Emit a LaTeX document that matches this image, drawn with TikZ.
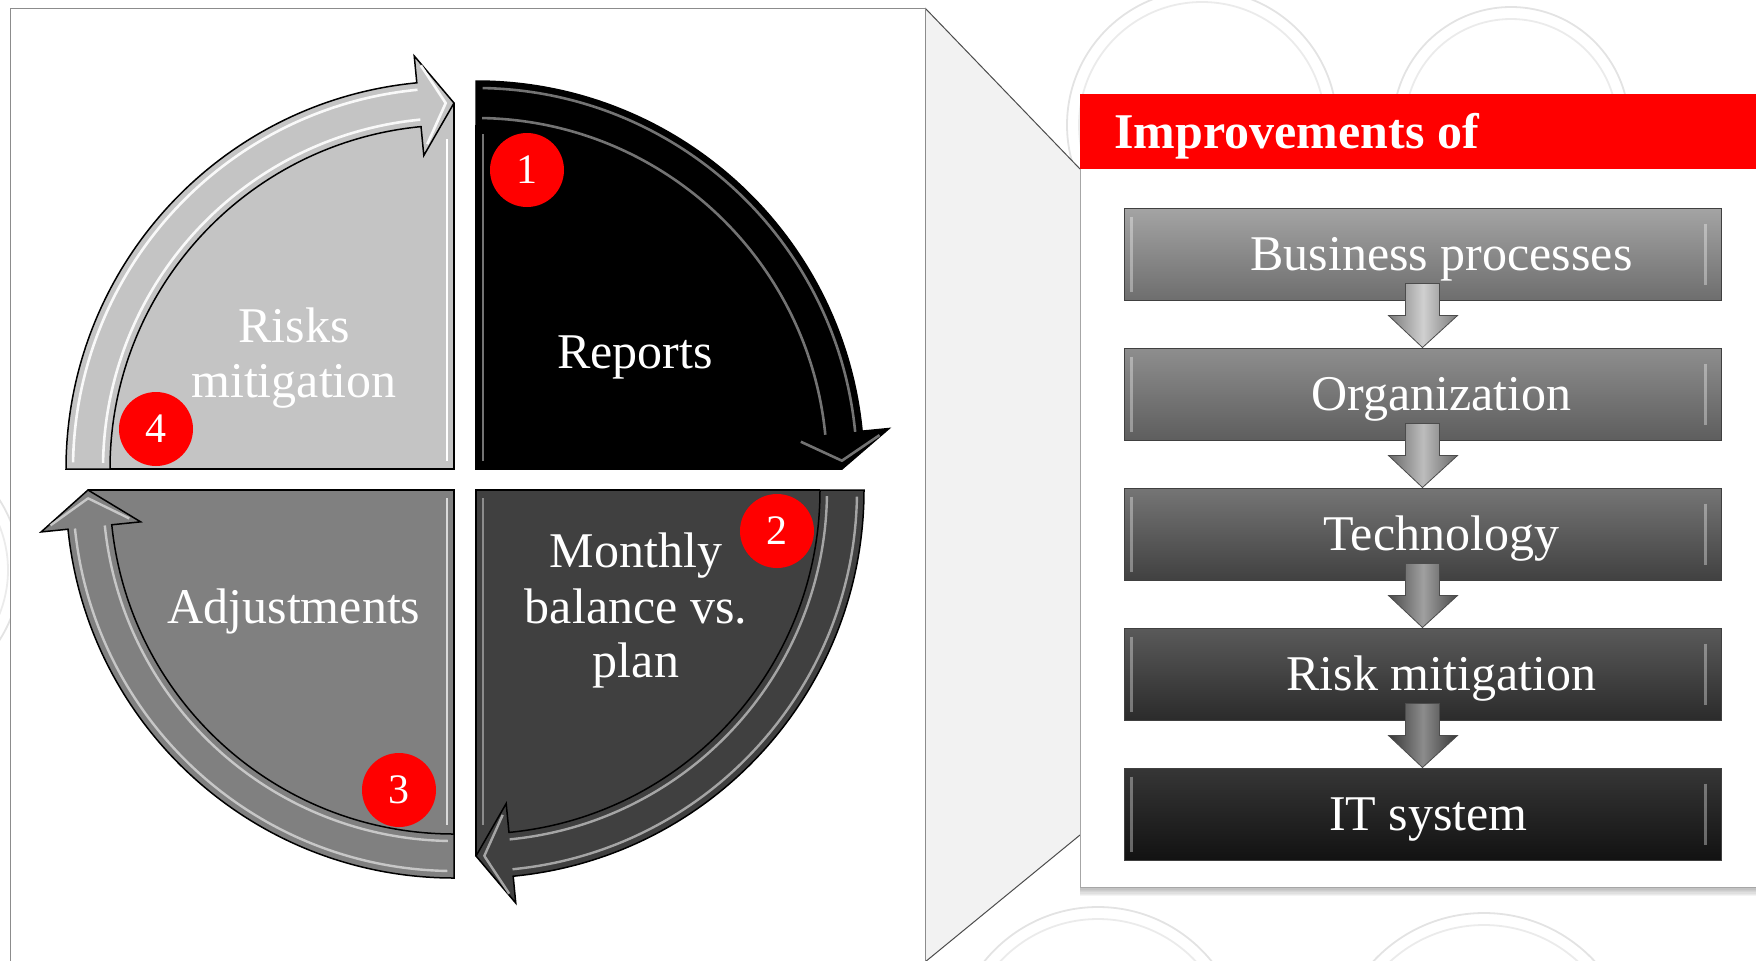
\documentclass[tikz,border=0pt]{standalone}
\usepackage{fontspec}
\setmainfont{Liberation Serif}
\usetikzlibrary{calc}
\definecolor{qtl}{HTML}{C4C4C4}
\definecolor{qtr}{HTML}{000000}
\definecolor{qbr}{HTML}{404040}
\definecolor{qbl}{HTML}{808080}
\definecolor{calloutgray}{HTML}{F2F2F2}
\definecolor{hdrred}{HTML}{FF0000}
\definecolor{bt1}{HTML}{A4A4A4}\definecolor{bb1}{HTML}{6E6E6E}
\definecolor{bt2}{HTML}{8E8E8E}\definecolor{bb2}{HTML}{5E5E5E}
\definecolor{bt3}{HTML}{757575}\definecolor{bb3}{HTML}{414141}
\definecolor{bt4}{HTML}{5A5A5A}\definecolor{bb4}{HTML}{2B2B2B}
\definecolor{bt5}{HTML}{363636}\definecolor{bb5}{HTML}{121212}
\definecolor{as1}{HTML}{7A7A7A}\definecolor{am1}{HTML}{D0D0D0}
\definecolor{as2}{HTML}{686868}\definecolor{am2}{HTML}{BDBDBD}
\definecolor{as3}{HTML}{4A4A4A}\definecolor{am3}{HTML}{A0A0A0}
\definecolor{as4}{HTML}{383838}\definecolor{am4}{HTML}{8C8C8C}
% band of a quadrant arrow: #1 options, #2 centre, #3 start angle, #4 head back angle, #5 tip angle
\newcommand\qband[5]{%
  \draw[#1] ($(#2)+(#3:388)$) arc[start angle=#3,end angle=#4,radius=388]
   -- ($(#2)+(#4:415)$) -- ($(#2)+(#5:366)$) -- ($(#2)+(#4:315)$) -- ($(#2)+(#4:344)$)
   arc[start angle=#4,end angle=#3,radius=344] -- cycle;}
\newcommand\qfill[4]{%
  \fill[#1] (#2) -- ($(#2)+(#3:366)$) arc[start angle=#3,end angle=#4,radius=366] -- cycle;}
\newcommand\qedge[4]{%
  \draw[#1] ($(#2)+(#3:344)$) -- (#2) -- ($(#2)+(#4:366)$);}
\newcommand\qhl[5]{%
  \draw[#1] ($(#2)+({#3+1}:351)$) arc[start angle={#3+1},end angle={#4},radius=351];
  \draw[#1] ($(#2)+({#3+1}:381)$) arc[start angle={#3+1},end angle={#4},radius=381];
  \draw[#1,line join=round] ($(#2)+({#4+0.8}:405)$) -- ($(#2)+({#5-1.3}:366)$) -- ($(#2)+({#4+0.8}:326)$);}
\begin{document}
\begin{tikzpicture}[x=0.5pt,y=-0.5pt,
  qtext/.style={text=white,font=\fontsize{25}{30}\selectfont,anchor=base,inner sep=0pt},
  badge/.style={circle,fill=hdrred,minimum size=37pt,inner sep=0pt,text=white,font=\fontsize{21}{24}\selectfont},
  flowbox/.style={draw=black!75,line width=0.5pt,minimum width=298.5pt,minimum height=46pt,inner sep=0pt,text=white,font=\fontsize{25}{30}\selectfont,text height=18pt,text depth=2pt},
  coin/.style={draw=black!11,line width=0.9pt},
  bandline/.style={line width=0.75pt,draw=black},
  flowarrow/.style={draw=black!70,line width=0.4pt},
  bevel/.style={white,opacity=0.35,line width=1.5pt}]
\useasboundingbox (0,0) rectangle (1756,960);
% background coins
\foreach \cx/\cy/\r in {1202/125/135,1511/125/118,1098/1053/146,1484/1064/151,-110/570/130}{
  \draw[coin] (\cx,\cy) circle[radius=\r];
  \draw[coin,draw=black!8] (\cx,\cy) circle[radius={\r-12}];
}
% callout wedge
\fill[calloutgray] (925,8) -- (1080,169) -- (1080,835) -- (925,962) -- cycle;
\draw[black!70,line width=0.5pt] (925,8) -- (1080,169);
\draw[black!70,line width=0.5pt] (1080,835) -- (925,962);
% left panel
\draw[fill=white,draw=black!45,line width=0.5pt] (10,8) rectangle (925,975);
% right box with soft shadow
\foreach \i in {1,...,7}{
  \fill[black,opacity=0.045] (1080,169) rectangle (1780,{887+1.3*\i});
}
\fill[white] (1080,169) rectangle (1780,887);
\draw[black!35,line width=0.4pt] (1080,169) -- (1080,887) -- (1780,887);
% header
\fill[hdrred] (1080,94) rectangle (1780,169);
\node[anchor=base west,inner sep=0pt,text=white,font=\bfseries\fontsize{25}{30}\selectfont] (hdr) at (1114,148) {Improvements of};
% flow boxes
\node[flowbox,top color=bt1,bottom color=bb1] (b1) at (1422.5,254) {\hspace*{19pt}Business processes};
\node[flowbox,top color=bt2,bottom color=bb2] (b2) at (1422.5,394) {\hspace*{19pt}Organization};
\node[flowbox,top color=bt3,bottom color=bb3] (b3) at (1422.5,534) {\hspace*{19pt}Technology};
\node[flowbox,top color=bt4,bottom color=bb4] (b4) at (1422.5,674) {\hspace*{19pt}Risk mitigation};
\node[flowbox,top color=bt5,bottom color=bb5] (b5) at (1422.5,814) {\hspace*{6pt}IT system};
\foreach \b in {b1,b2,b3,b4,b5}{
  \draw[bevel] ($(\b.north west)+(8,9)$) -- ($(\b.south west)+(8,-9)$);
  \draw[bevel] ($(\b.north east)+(-16,16)$) -- ($(\b.south east)+(-16,-16)$);
}
% down arrows
\foreach \u/\l/\s in {b1/b2/1,b2/b3/2,b3/b4/3,b4/b5/4}{
  \draw[flowarrow,left color=as\s,right color=as\s,middle color=am\s]
    ($(\u.south)+(-17,-17)$) -- ($(\u.south)+(17,-17)$) -- ($(\u.south)+(17,15)$)
    -- ($(\u.south)+(35,15)$) -- (\l.north) -- ($(\u.south)+(-34,15)$)
    -- ($(\u.south)+(-17,15)$) -- cycle;
}
% cycle quadrants
\coordinate (cTL) at (454,469);
\coordinate (cTR) at (476,469);
\coordinate (cBR) at (476,490);
\coordinate (cBL) at (454,490);
% top left
\qfill{qtl}{cTL}{180}{270}
\qband{fill=qtl,bandline}{cTL}{180}{264.5}{270}
\qhl{white,line width=1.3pt,opacity=0.9}{cTL}{180}{264.5}{270}
\qedge{bandline}{cTL}{180}{270}
\draw[white,line width=1.2pt] ($(cTL)+(-7,-8)$) -- ($(cTL)+(-7,-330)$);
% top right
\qfill{qtr}{cTR}{270}{360}
\qband{fill=qtr,bandline}{cTR}{270}{354.4}{360}
\qhl{black!55,line width=1.3pt}{cTR}{270}{354.4}{360}
\qedge{bandline}{cTR}{270}{360}
\draw[black!55,line width=1.2pt] ($(cTR)+(7,-335)$) -- ($(cTR)+(7,-8)$);
% bottom right
\qfill{qbr}{cBR}{0}{90}
\qband{fill=qbr,bandline}{cBR}{0}{84.5}{90}
\qhl{black!25,line width=1.2pt,opacity=0.8}{cBR}{0}{84.5}{90}
\qedge{bandline}{cBR}{0}{90}
\draw[black!45,line width=1.2pt] ($(cBR)+(7,8)$) -- ($(cBR)+(7,335)$);
% bottom left
\qfill{qbl}{cBL}{90}{180}
\qband{fill=qbl,bandline}{cBL}{90}{174.2}{180}
\qhl{black!15,line width=1.2pt,opacity=0.8}{cBL}{90}{174.2}{180}
\qedge{bandline}{cBL}{90}{180}
\draw[black!15,line width=1.2pt] ($(cBL)+(-7,8)$) -- ($(cBL)+(-7,335)$);
% texts
\node[qtext] (tl1) at (294,342) {Risks};
\node[qtext] (tl2) at (294,397) {mitigation};
\node[qtext] (tr1) at (635,368) {Reports};
\node[qtext] (br1) at (636,567) {Monthly};
\node[qtext] (br2) at (636,623) {balance vs.};
\node[qtext] (br3) at (636,677) {plan};
\node[qtext] (bl1) at (294,623) {Adjustments};
% number badges
\node[badge] (n1) at (527,170) {1};
\node[badge] (n2) at (777,531) {2};
\node[badge] (n3) at (399,790) {3};
\node[badge] (n4) at (156,429) {4};
\end{tikzpicture}
\end{document}
